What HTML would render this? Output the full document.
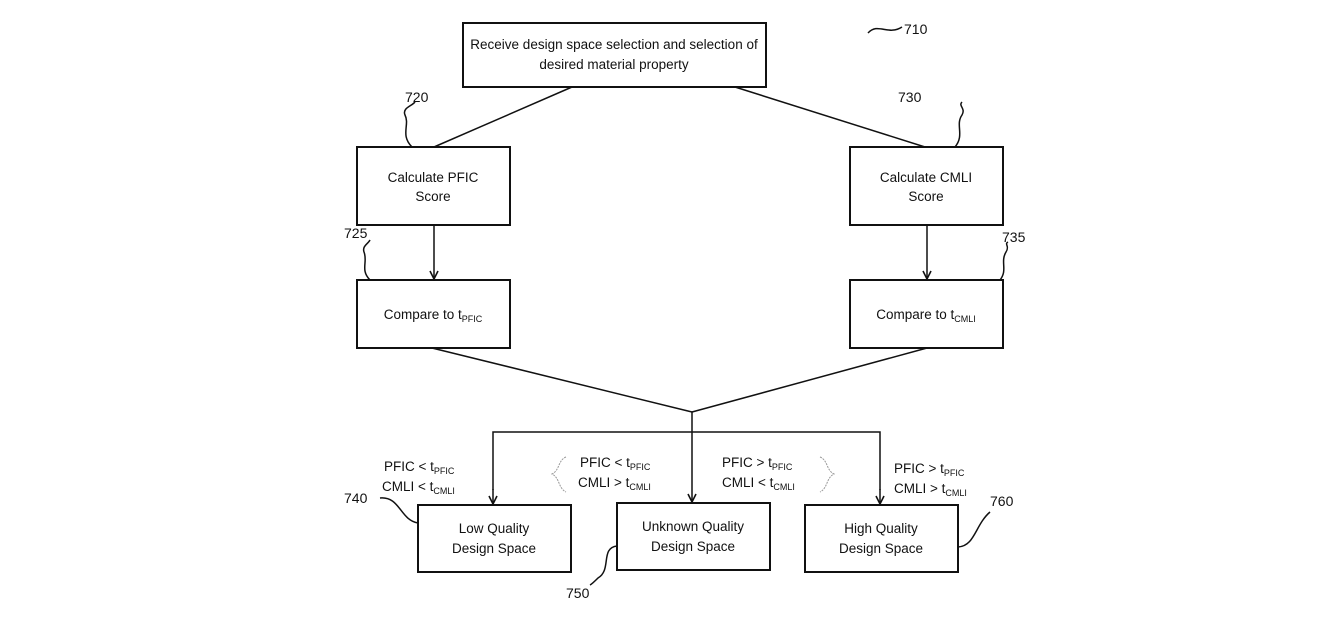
<!DOCTYPE html>
<html><head><meta charset="utf-8"><style>
html,body{margin:0;padding:0;background:#fff}
svg{display:block}
text{font-family:"Liberation Sans",Arial,sans-serif;fill:#111}
</style></head><body>
<svg width="1317" height="621" viewBox="0 0 1317 621" xmlns="http://www.w3.org/2000/svg">
<defs><marker id="a" markerWidth="12" markerHeight="12" refX="9" refY="5" orient="auto" markerUnits="userSpaceOnUse"><path d="M1,1 L9,5 L1,9" fill="none" stroke="#111" stroke-width="1.6"/></marker></defs>
<g fill="none" stroke="#111" stroke-width="2">
<rect x="463" y="23" width="303" height="64"/>
<rect x="357" y="147" width="153" height="78"/>
<rect x="850" y="147" width="153" height="78"/>
<rect x="357" y="280" width="153" height="68"/>
<rect x="850" y="280" width="153" height="68"/>
<rect x="418" y="505" width="153" height="67"/>
<rect x="617" y="503" width="153" height="67"/>
<rect x="805" y="505" width="153" height="67"/>
</g>
<g fill="none" stroke="#111" stroke-width="1.5">
<line x1="572" y1="87" x2="434" y2="147"/>
<line x1="735" y1="87" x2="925" y2="147"/>
<line x1="434" y1="225" x2="434" y2="279" marker-end="url(#a)"/>
<line x1="927" y1="225" x2="927" y2="279" marker-end="url(#a)"/>
<line x1="432" y1="348" x2="692" y2="412"/>
<line x1="927" y1="348" x2="692" y2="412"/>
<line x1="692" y1="412" x2="692" y2="502" marker-end="url(#a)"/>
<polyline points="493,490 493,432 880,432 880,490"/>
<line x1="493" y1="489" x2="493" y2="504" marker-end="url(#a)"/>
<line x1="880" y1="489" x2="880" y2="504" marker-end="url(#a)"/>
<path d="M868,33 C878,22 888,36 902,27"/>
<path d="M412,147 C400,135 410,125 405,115 C402,108 412,106 415,102"/>
<path d="M955,147 C965,135 955,125 962,115 C966,108 958,106 962,102"/>
<path d="M370,280 C360,270 368,262 364,252 C362,246 368,244 370,240"/>
<path d="M1000,280 C1008,270 1000,262 1006,252 C1010,246 1004,244 1008,242"/>
<path d="M380,498 C400,496 400,520 418,523"/>
<path d="M617,546 C600,548 612,570 598,578 C594,582 592,584 590,585"/>
<path d="M958,547 C975,546 975,525 990,512"/>
</g>
<g fill="none" stroke="#999" stroke-width="1" stroke-dasharray="2,1">
<path d="M566,457 C558,460 560,470 552,474 C560,478 558,488 566,492"/>
<path d="M820,457 C828,460 826,470 834,474 C826,478 828,488 820,492"/>
</g>
<g font-size="13.5" text-anchor="middle">
<text x="614" y="49">Receive design space selection and selection of</text>
<text x="614" y="69">desired material property</text>
<text x="433" y="182">Calculate PFIC</text>
<text x="433" y="201">Score</text>
<text x="926" y="182">Calculate CMLI</text>
<text x="926" y="201">Score</text>
<text x="433" y="319">Compare to t<tspan font-size="9" dy="3">PFIC</tspan></text>
<text x="926" y="319">Compare to t<tspan font-size="9" dy="3">CMLI</tspan></text>
<text x="494" y="533">Low Quality</text>
<text x="494" y="553">Design Space</text>
<text x="693" y="531">Unknown Quality</text>
<text x="693" y="551">Design Space</text>
<text x="881" y="533">High Quality</text>
<text x="881" y="553">Design Space</text>
</g>
<g font-size="13.5">
<text x="384" y="471">PFIC &lt; t<tspan font-size="9" dy="3">PFIC</tspan></text>
<text x="382" y="491">CMLI &lt; t<tspan font-size="9" dy="3">CMLI</tspan></text>
<text x="580" y="467">PFIC &lt; t<tspan font-size="9" dy="3">PFIC</tspan></text>
<text x="578" y="487">CMLI &gt; t<tspan font-size="9" dy="3">CMLI</tspan></text>
<text x="722" y="467">PFIC &gt; t<tspan font-size="9" dy="3">PFIC</tspan></text>
<text x="722" y="487">CMLI &lt; t<tspan font-size="9" dy="3">CMLI</tspan></text>
<text x="894" y="473">PFIC &gt; t<tspan font-size="9" dy="3">PFIC</tspan></text>
<text x="894" y="493">CMLI &gt; t<tspan font-size="9" dy="3">CMLI</tspan></text>
</g>
<g font-size="14">
<text x="904" y="34">710</text>
<text x="405" y="102">720</text>
<text x="898" y="102">730</text>
<text x="344" y="238">725</text>
<text x="1002" y="242">735</text>
<text x="344" y="503">740</text>
<text x="566" y="598">750</text>
<text x="990" y="506">760</text>
</g>
</svg>
</body></html>
